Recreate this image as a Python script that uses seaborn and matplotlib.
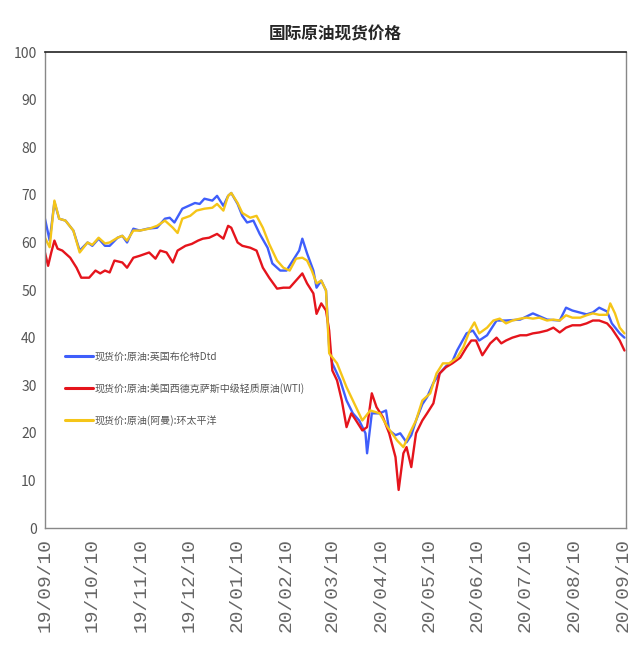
import numpy as np
import pandas as pd
import matplotlib
matplotlib.use("Agg")
import matplotlib.pyplot as plt
import matplotlib.dates as mdates
import seaborn as sns

# day offsets from 2019-09-10
start = pd.Timestamp("2019-09-10")

brent_days = [0, 3, 6, 9, 13, 18, 22, 27, 30, 34, 38, 41, 46, 49, 52, 56, 60, 65, 71, 76,
              79, 82, 87, 91, 95, 98, 101, 106, 109, 113, 116, 118, 122, 125, 128, 132, 136, 141, 144, 149,
              153, 157, 161, 163, 166, 170, 172, 175, 178, 180, 182, 187, 191, 195, 199, 203, 204, 207, 212, 216,
              218, 222, 225, 229, 232, 235, 239, 242, 246, 250, 254, 258, 261, 267, 271, 275, 280, 286, 292, 301,
              309, 318, 326, 330, 334, 343, 347, 351, 356, 359, 364, 367]
brent_vals = [65.0, 60.4, 68.5, 65.0, 64.6, 62.5, 58.3, 60.0, 59.3, 60.8, 59.3, 59.3, 61.0, 61.4, 60.0, 62.9, 62.5, 62.9, 63.1, 65.0,
              65.2, 64.2, 67.1, 67.7, 68.3, 68.1, 69.2, 68.8, 69.8, 67.7, 69.8, 70.4, 68.1, 65.6, 64.2, 64.6, 61.8, 58.9, 55.6, 54.1,
              54.1, 56.2, 58.3, 60.8, 57.7, 54.1, 50.5, 52.0, 49.9, 38.0, 34.6, 31.0, 26.8, 24.1, 22.6, 19.9, 15.7, 24.1, 24.1, 24.7,
              20.5, 19.5, 19.9, 18.0, 19.5, 22.6, 26.0, 27.5, 30.5, 32.5, 34.0, 35.0, 37.3, 40.9, 41.5, 39.4, 40.5, 43.6, 43.6, 43.8,
              45.1, 43.8, 43.6, 46.3, 45.7, 44.9, 45.3, 46.3, 45.5, 43.0, 40.9, 40.0]

wti_days = [0, 2, 4, 6, 8, 11, 16, 20, 23, 28, 32, 35, 38, 41, 44, 49, 52, 56, 60, 66,
            70, 73, 77, 81, 84, 89, 93, 97, 100, 104, 109, 113, 116, 118, 122, 125, 130, 134, 138, 142,
            147, 151, 155, 159, 163, 166, 170, 172, 175, 178, 180, 182, 185, 188, 191, 194, 197, 201, 204, 207,
            210, 214, 218, 222, 224, 227, 229, 232, 235, 239, 242, 246, 250, 254, 258, 263, 267, 270, 273, 277,
            282, 286, 289, 292, 296, 301, 305, 309, 313, 318, 322, 326, 330, 334, 339, 343, 347, 351, 356, 359,
            364, 367]
wti_vals = [57.9, 55.1, 57.9, 60.4, 58.7, 58.3, 56.8, 54.7, 52.6, 52.6, 54.1, 53.5, 54.1, 53.7, 56.2, 55.8, 54.7, 56.8, 57.2, 57.9,
            56.6, 58.3, 57.9, 55.8, 58.3, 59.3, 59.7, 60.4, 60.8, 61.0, 61.8, 60.8, 63.5, 63.1, 60.0, 59.3, 58.9, 58.3, 54.7, 52.6,
            50.3, 50.5, 50.5, 52.0, 53.5, 51.4, 49.3, 45.0, 47.2, 45.7, 41.5, 33.1, 31.0, 26.8, 21.2, 24.1, 22.6, 20.5, 21.2, 28.3,
            25.4, 23.3, 19.9, 14.9, 8.0, 15.7, 17.0, 12.8, 19.9, 22.6, 24.1, 26.2, 32.5, 33.8, 34.6, 35.8, 38.0, 39.4, 39.4, 36.3,
            38.8, 40.0, 38.8, 39.4, 40.0, 40.5, 40.5, 40.9, 41.1, 41.5, 42.1, 41.1, 42.1, 42.6, 42.6, 43.0, 43.6, 43.6, 43.0, 41.9,
            39.4, 37.3]

oman_days = [0, 3, 6, 9, 13, 18, 22, 27, 30, 34, 38, 41, 46, 49, 52, 56, 60, 66, 71, 76,
             81, 84, 87, 92, 96, 101, 106, 109, 113, 116, 118, 122, 125, 130, 134, 138, 142, 147, 151, 155,
             159, 163, 166, 169, 172, 175, 178, 180, 185, 191, 195, 201, 206, 212, 217, 223, 227, 231, 235, 239,
             244, 248, 252, 256, 261, 265, 269, 272, 275, 280, 284, 288, 292, 296, 301, 305, 309, 313, 318, 322,
             326, 330, 334, 339, 343, 347, 351, 356, 358, 361, 364, 367]
oman_vals = [61.0, 59.0, 68.8, 65.0, 64.6, 62.5, 57.9, 60.0, 59.5, 61.0, 59.8, 60.0, 61.0, 61.4, 60.4, 62.5, 62.5, 62.9, 63.5, 64.6,
             63.1, 62.0, 65.0, 65.6, 66.7, 67.1, 67.3, 68.1, 66.7, 69.8, 70.4, 68.3, 66.2, 65.2, 65.6, 63.1, 59.7, 56.2, 54.7, 54.1,
             56.6, 56.8, 56.2, 54.1, 51.4, 52.0, 49.9, 36.7, 34.6, 29.6, 26.8, 22.6, 24.7, 24.1, 21.2, 18.4, 17.0, 19.9, 22.6, 26.8,
             28.3, 32.5, 34.6, 34.6, 35.8, 38.0, 41.5, 43.2, 40.9, 42.1, 43.6, 44.0, 43.0, 43.6, 44.0, 44.2, 44.0, 44.2, 43.6, 43.8,
             43.6, 44.7, 44.2, 44.2, 44.7, 45.1, 44.8, 44.8, 47.2, 45.1, 42.1, 40.9]

names = ["现货价:原油:英国布伦特Dtd",
         "现货价:原油:美国西德克萨斯中级轻质原油(WTI)",
         "现货价:原油(阿曼):环太平洋"]
colors = ["#3f5efb", "#e5141c", "#f5c518"]

frames = []
for nm, d, v in zip(names, [brent_days, wti_days, oman_days], [brent_vals, wti_vals, oman_vals]):
    frames.append(pd.DataFrame({"date": start + pd.to_timedelta(d, unit="D"), "value": v, "series": nm}))
df = pd.concat(frames, ignore_index=True)

sns.set_theme(style="white")
plt.rcParams["font.family"] = ["Noto Sans CJK SC", "DejaVu Sans"]

fig = plt.figure(figsize=(6.33, 6.6), dpi=100)
ax = fig.add_axes([0.071, 0.2, 0.918, 0.721])

sns.lineplot(data=df, x="date", y="value", hue="series", hue_order=names,
             palette=colors, linewidth=1.7, ax=ax)

ax.set_ylim(0, 100)
ax.set_yticks(np.arange(0, 101, 10))
ax.set_xlim(pd.Timestamp("2019-09-10"), pd.Timestamp("2020-09-12"))
ticks = pd.date_range("2019-09-10", "2020-09-10", freq=pd.DateOffset(months=1))
ax.set_xticks(ticks)
ax.xaxis.set_major_formatter(mdates.DateFormatter("%y/%m/%d"))
ax.tick_params(axis="x", direction="in", length=7, width=0.8, color="#777",
               labelrotation=90, labelsize=14, labelcolor="#666", pad=7)
ax.tick_params(axis="y", direction="in", length=3, width=0.8, color="#333",
               labelsize=10, labelcolor="#555", pad=6)
for lab in ax.get_xticklabels():
    lab.set_fontfamily("Liberation Mono")
    lab.set_va("top")
    lab.set_ha("center")

for side in ["left", "bottom", "right"]:
    ax.spines[side].set_color("#888")
    ax.spines[side].set_linewidth(1)
ax.spines["top"].set_color("#222")
ax.spines["top"].set_linewidth(1.2)

ax.set_xlabel("")
ax.set_ylabel("")
ax.set_title("国际原油现货价格", fontsize=12, fontweight="bold", pad=9)

leg = ax.legend(loc="upper left", bbox_to_anchor=(0.034, 0.37), frameon=False,
                fontsize=7.2, handlelength=2.8, handletextpad=0.2, labelspacing=2.1,
                borderpad=0, borderaxespad=0)
for t in leg.get_texts():
    t.set_color("#555")
for h in leg.get_lines():
    h.set_linewidth(2.2)

fig.savefig("out.png", dpi=100)
